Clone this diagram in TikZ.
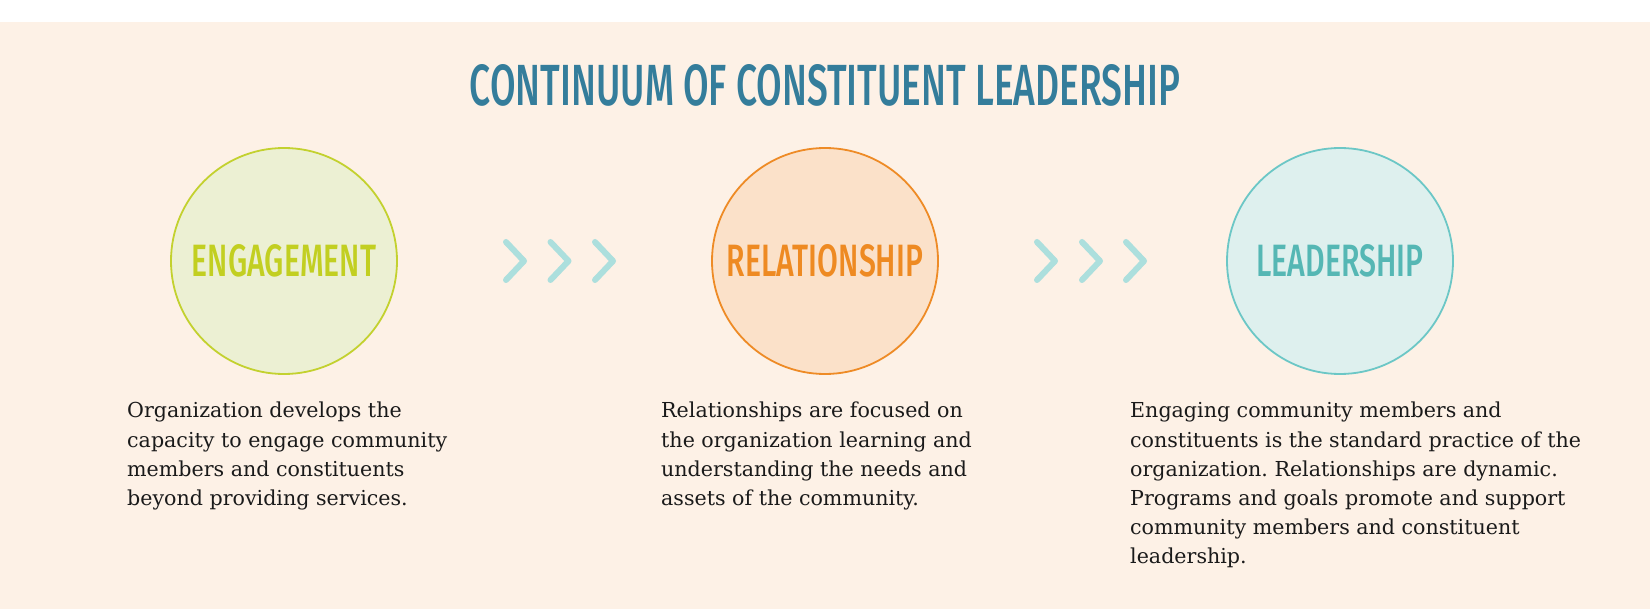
\documentclass[tikz,border=0pt]{standalone}
\usepackage{fontspec}
\usepackage{graphicx}
\setmainfont{DejaVu Serif}
\newfontfamily\headfont{Fira Sans Medium}
\definecolor{bgpeach}{HTML}{FDF1E6}
\definecolor{titlec}{HTML}{347D9B}
\definecolor{engstroke}{HTML}{C3D12F}
\definecolor{engfill}{HTML}{ECF0D3}
\definecolor{engtext}{HTML}{C2CF21}
\definecolor{relstroke}{HTML}{EE8B26}
\definecolor{relfill}{HTML}{FBE1C9}
\definecolor{reltext}{HTML}{EE8A22}
\definecolor{leastroke}{HTML}{6CC7C6}
\definecolor{leafill}{HTML}{DEF0EE}
\definecolor{leatext}{HTML}{55B7B4}
\definecolor{chevc}{HTML}{ACDFDD}
\definecolor{bodytxt}{HTML}{1A1A1A}
\newcommand\condlbl[3]{\resizebox{#1}{#2}{\headfont #3}}
\newcommand\descbox[1]{\parbox[t]{520pt}{\raggedright\frenchspacing\fontsize{20.6pt}{29.2pt}\selectfont #1}}
\tikzset{
  stage/.style={circle, minimum size=226pt, inner sep=0pt, line width=1.8pt},
  chev/.style={draw=chevc, line width=6pt, line cap=round, line join=round},
  desc/.style={anchor=base west, inner sep=0pt, text=bodytxt},
}
\begin{document}
\begin{tikzpicture}[x=1pt,y=-1pt]
  \useasboundingbox (0,0) rectangle (1650,609);
  \fill[white] (0,0) rectangle (1650,609);
  \fill[bgpeach] (0,22) rectangle (1650,609);

  \node[inner sep=0pt, text=titlec] (title) at (825,85.5)
    {\condlbl{710pt}{41pt}{CONTINUUM OF CONSTITUENT LEADERSHIP}};

  \node[stage, draw=engstroke, fill=engfill, text=engtext] (eng) at (284,261)
    {\condlbl{184pt}{32pt}{ENGAGEMENT}};
  \node[stage, draw=relstroke, fill=relfill, text=reltext] (rel) at (825,261)
    {\condlbl{196pt}{32pt}{RELATIONSHIP}};
  \node[stage, draw=leastroke, fill=leafill, text=leatext] (lea) at (1340,261)
    {\condlbl{167pt}{32pt}{LEADERSHIP}};

  \foreach \x in {506,550.5,595,1037,1082,1126}
    \draw[chev] (\x,242) -- (\x+18,261) -- (\x,280);

  \node[desc] (engdesc) at (127,418) {\descbox{Organization develops the\\
    capacity to engage community\\
    members and constituents\\
    beyond providing services.}};
  \node[desc] (reldesc) at (661,418) {\descbox{Relationships are focused on\\
    the organization learning and\\
    understanding the needs and\\
    assets of the community.}};
  \node[desc] (leadesc) at (1130,418) {\descbox{Engaging community members and\\
    constituents is the standard practice of the\\
    organization. Relationships are dynamic.\\
    Programs and goals promote and support\\
    community members and constituent\\
    leadership.}};
\end{tikzpicture}
\end{document}
